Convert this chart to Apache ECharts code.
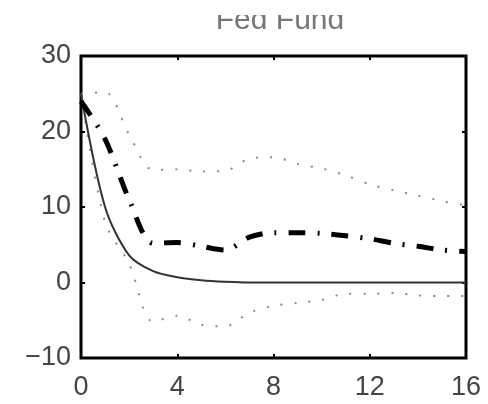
<!DOCTYPE html>
<html>
<head>
<meta charset="utf-8">
<script src="https://cdn.jsdelivr.net/npm/echarts@6/dist/echarts.min.js"></script>
<style>
  html, body { margin: 0; padding: 0; background: #fff; }
  #chart { width: 488px; height: 404px; }
</style>
</head>
<body>
<div id="chart"></div>
<script>
const horizon = [0, 1, 2, 3, 4, 5, 6, 7, 8, 9, 10, 11, 12, 13, 14, 15, 16];
const response = [25, 10, 3.6, 1.5, 0.7, 0.3, 0.1, 0, 0, 0, 0, 0, 0, 0, 0, 0, 0];
const alternative = [24, 19, 11, 5.2, 5.3, 4.8, 4.3, 6, 6.6, 6.6, 6.5, 6.2, 5.8, 5.2, 4.8, 4.3, 4.1];
const upperBand = [25, 25.2, 19.6, 14.9, 15, 14.7, 14.8, 16.4, 16.6, 15.7, 15.1, 14.2, 13, 12.2, 11.5, 10.8, 10.2];
const lowerBand = [25, 8, 2.5, -5.2, -4.4, -5.6, -5.8, -4, -3.1, -2.7, -2.3, -1.5, -1.5, -1.4, -1.7, -1.8, -1.8];
const xTicks = [0, 4, 8, 12, 16];
const yTicks = [-10, 0, 10, 20, 30];

const pairs = (ys) => horizon.map((x, i) => [x, ys[i]]);

const chart = echarts.init(document.getElementById("chart"));

const tickStyle = { show: true, inside: true, length: 4, lineStyle: { color: "#000", width: 2 } };
const labelFont = { fontFamily: "Liberation Sans", fontSize: 27, color: "#444" };

const options = {
  animation: false,
  title: {
    text: "Fed Fund",
    left: 275,
    top: 1,
    textAlign: "center",
    textStyle: { fontFamily: "Liberation Sans", fontSize: 30, fontWeight: "normal", color: "#777" },
  },
  // the title in the reference is cut off along its top edge
  graphic: [
    { type: "rect", left: 0, top: 0, z: 100, shape: { width: 488, height: 15 }, style: { fill: "#fff" } },
  ],
  grid: {
    left: 81,
    right: 22,
    top: 56,
    bottom: 46,
    show: true,
    borderColor: "#000",
    borderWidth: 3,
    backgroundColor: "#fff",
  },
  xAxis: [
    {
      type: "value",
      min: xTicks[0],
      max: xTicks[xTicks.length - 1],
      interval: 4,
      axisLine: { show: false, onZero: false },
      axisTick: tickStyle,
      splitLine: { show: false },
      axisLabel: Object.assign({ margin: 16 }, labelFont),
    },
    {
      type: "value",
      position: "top",
      min: xTicks[0],
      max: xTicks[xTicks.length - 1],
      interval: 4,
      axisLine: { show: false, onZero: false },
      axisTick: tickStyle,
      splitLine: { show: false },
      axisLabel: { show: false },
    },
  ],
  yAxis: [
    {
      type: "value",
      min: yTicks[0],
      max: yTicks[yTicks.length - 1],
      interval: 10,
      axisLine: { show: false, onZero: false },
      axisTick: tickStyle,
      splitLine: { show: false },
      axisLabel: Object.assign(
        { margin: 10, formatter: (v) => String(v).replace("-", "\u2212") },
        labelFont
      ),
    },
    {
      type: "value",
      position: "right",
      min: yTicks[0],
      max: yTicks[yTicks.length - 1],
      interval: 10,
      axisLine: { show: false, onZero: false },
      axisTick: tickStyle,
      splitLine: { show: false },
      axisLabel: { show: false },
    },
  ],
  series: [
    {
      type: "line",
      data: pairs(upperBand),
      symbol: "none",
      smooth: 0.3,
      lineStyle: { color: "#888", width: 2, type: [2, 12] },
    },
    {
      type: "line",
      data: pairs(lowerBand),
      symbol: "none",
      smooth: 0.3,
      lineStyle: { color: "#888", width: 2, type: [2, 12] },
    },
    {
      type: "line",
      data: pairs(response),
      symbol: "none",
      smooth: 0.3,
      lineStyle: { color: "#333", width: 2 },
    },
    {
      type: "line",
      data: pairs(alternative),
      symbol: "none",
      smooth: 0.3,
      lineStyle: { color: "#000", width: 5, type: [17, 12, 2, 12] },
    },
  ],
};

chart.setOption(options);
</script>
</body>
</html>
